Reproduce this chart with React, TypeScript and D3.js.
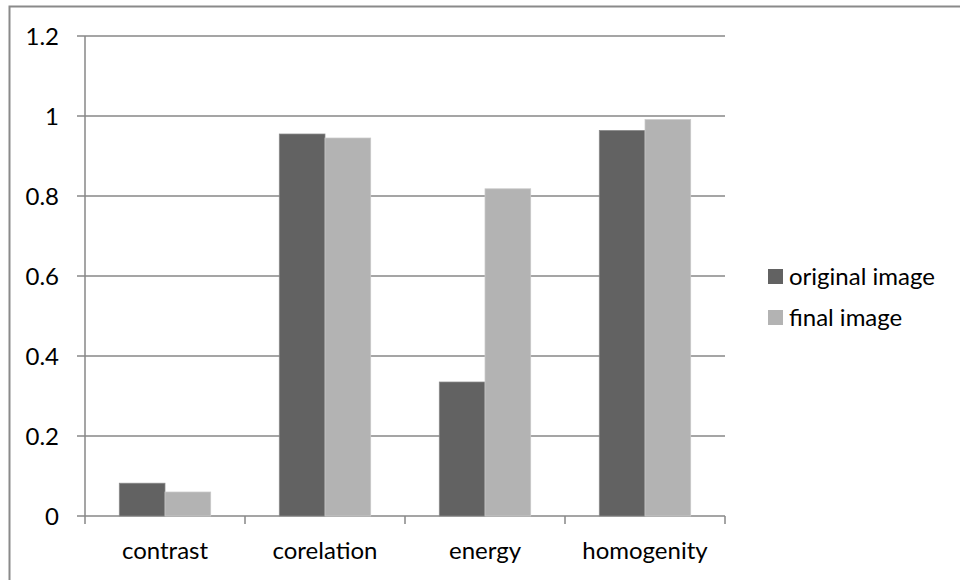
import React from "react";
import * as d3 from "d3";

const categories = ["contrast", "corelation", "energy", "homogenity"];
const seriesNames = ["original image", "final image"];
const originalValues = [0.082, 0.955, 0.335, 0.964];
const finalValues = [0.06, 0.945, 0.818, 0.991];
const yTicks = [0, 0.2, 0.4, 0.6, 0.8, 1, 1.2];
const colors = ["#626262", "#b3b3b3"];
const strokes = ["#8a8a8a", "#c9c9c9"];

export default function App() {
  const W = 960, H = 580;
  const left = 85, right = 725, top = 36, bottom = 516;
  const x = d3.scaleBand<string>().domain(categories).range([left, right]).paddingInner(0).paddingOuter(0);
  const y = d3.scaleLinear().domain([0, 1.2]).range([bottom, top]);
  const bw = x.bandwidth();
  const barW = bw / 3.5;
  const gapSide = (bw - 2 * barW) / 2;
  const series = [originalValues, finalValues];
  const font = "Lato, 'Open Sans', sans-serif";
  const fs = 24;
  const grid = "#878787";
  return (
    <svg width={W} height={H} style={{ position: "absolute", left: 0, top: 0, background: "#fff" }}>
      <rect x={0} y={0} width={W} height={H} fill="#fff" />
      <path d={`M9.5,${H} L9.5,6.5 L${W},6.5`} fill="none" stroke="#8a8a8a" strokeWidth={2} />
      {yTicks.map((t) => (
        <g key={t}>
          <line x1={left - 8} x2={right} y1={y(t)} y2={y(t)} stroke={grid} strokeWidth={1.5} />
          <text x={59} y={y(t)} dy="0.36em" textAnchor="end" fontFamily={font} fontSize={fs} fill="#000">
            {String(t)}
          </text>
        </g>
      ))}
      <line x1={left} x2={left} y1={top} y2={bottom} stroke={grid} strokeWidth={1.5} />
      {[...categories.map((c) => x(c) as number), right].map((px, i) => (
        <line key={i} x1={px} x2={px} y1={bottom} y2={bottom + 8} stroke={grid} strokeWidth={1.5} />
      ))}
      {categories.map((c, i) =>
        series.map((vals, s) => {
          const bx = (x(c) as number) + gapSide + s * barW;
          return (
            <rect
              key={c + s}
              x={bx}
              y={y(vals[i])}
              width={barW}
              height={bottom - y(vals[i])}
              fill={colors[s]}
              stroke={strokes[s]}
              strokeWidth={0.75}
            />
          );
        })
      )}
      {categories.map((c) => (
        <text key={c} x={(x(c) as number) + bw / 2} y={559} textAnchor="middle" fontFamily={font} fontSize={fs} fill="#000">
          {c}
        </text>
      ))}
      {seriesNames.map((n, s) => (
        <g key={n} transform={`translate(768, ${276.5 + s * 41})`}>
          <rect x={0} y={-7.5} width={15} height={15} fill={colors[s]} />
          <text x={21} y={0} dy="0.36em" fontFamily={font} fontSize={fs} fill="#000">
            {n}
          </text>
        </g>
      ))}
    </svg>
  );
}
